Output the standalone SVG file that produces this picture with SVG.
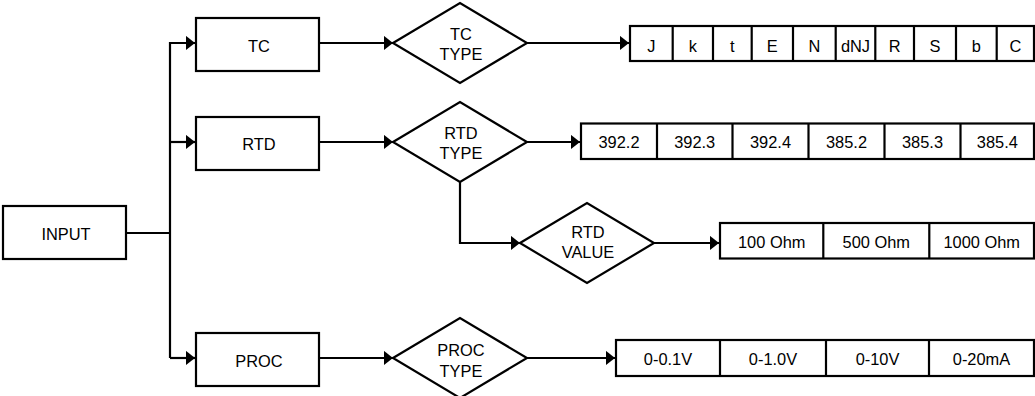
<svg xmlns="http://www.w3.org/2000/svg" width="1035" height="396" viewBox="0 0 1035 396">
<style>
.b{fill:#fff;stroke:#000;stroke-width:2.2}
.c{fill:none;stroke:#000;stroke-width:2.2}
text{font-family:"Liberation Sans",Arial,sans-serif;font-size:16.4px;fill:#000;text-anchor:middle}
</style>
<defs>
<marker id="ah" markerUnits="userSpaceOnUse" markerWidth="10" markerHeight="16" refX="9.5" refY="7.5" orient="auto">
<path d="M0,0 L9.5,7.5 L0,15 z" fill="#000"/>
</marker>
</defs>
<rect width="1035" height="396" fill="#fff"/>
<g id="connectors" class="c">
<path d="M126,233 H170"/>
<path d="M170,358 V43 H195" marker-end="url(#ah)"/>
<path d="M170,142 H195" marker-end="url(#ah)"/>
<path d="M170,358 H195" marker-end="url(#ah)"/>
<path d="M319,43 H393" marker-end="url(#ah)"/>
<path d="M319,142 H393" marker-end="url(#ah)"/>
<path d="M319,358 H393" marker-end="url(#ah)"/>
<path d="M527,43 H629" marker-end="url(#ah)"/>
<path d="M527,142 H580" marker-end="url(#ah)"/>
<path d="M460,182 V243 H520" marker-end="url(#ah)"/>
<path d="M654,243 H719" marker-end="url(#ah)"/>
<path d="M527,358 H615" marker-end="url(#ah)"/>
</g>
<g id="input"><rect class="b" x="3" y="206" width="123" height="53"/><text x="66" y="239.5">INPUT</text></g>
<g id="tc"><rect class="b" x="196" y="18" width="123" height="53"/><text x="259" y="52">TC</text></g>
<g id="rtd"><rect class="b" x="196" y="117" width="123" height="53"/><text x="259" y="150">RTD</text></g>
<g id="proc"><rect class="b" x="196" y="333" width="123" height="53"/><text x="259" y="366.5">PROC</text></g>
<g id="tc-type"><polygon class="b" points="393,43 460,3 527,43 460,83"/><text x="461" y="40">TC</text><text x="461" y="60">TYPE</text></g>
<g id="rtd-type"><polygon class="b" points="393,142 460,102 527,142 460,182"/><text x="461" y="138.5">RTD</text><text x="461" y="159">TYPE</text></g>
<g id="rtd-value"><polygon class="b" points="520,243 587,203 654,243 587,283"/><text x="588" y="238.3">RTD</text><text x="588" y="258.3">VALUE</text></g>
<g id="proc-type"><polygon class="b" points="393,358 460,318 527,358 460,398"/><text x="461" y="356">PROC</text><text x="461" y="376.5">TYPE</text></g>
<g id="tc-options">
<rect class="b" x="630" y="26" width="404" height="35"/>
<path class="c" d="M672.7,26V61 M713,26V61 M751.7,26V61 M793,26V61 M835.7,26V61 M875.3,26V61 M914,26V61 M956,26V61 M996.7,26V61"/>
<text x="651.3" y="51.5">J</text><text x="692.8" y="51.5">k</text><text x="732.3" y="51.5">t</text><text x="772.3" y="51.5">E</text><text x="814.3" y="51.5">N</text><text x="855.5" y="51.5">dNJ</text><text x="894.7" y="51.5">R</text><text x="935" y="51.5">S</text><text x="976.3" y="51.5">b</text><text x="1015.3" y="51.5">C</text>
</g>
<g id="rtd-options">
<rect class="b" x="581" y="123.5" width="453" height="35.5"/>
<path class="c" d="M657,123.5V159 M732.5,123.5V159 M808.5,123.5V159 M884.5,123.5V159 M960.5,123.5V159"/>
<text x="619" y="148.3">392.2</text><text x="694.7" y="148.3">392.3</text><text x="770.5" y="148.3">392.4</text><text x="846.5" y="148.3">385.2</text><text x="922.5" y="148.3">385.3</text><text x="997.3" y="148.3">385.4</text>
</g>
<g id="rtd-value-options">
<rect class="b" x="720" y="223" width="314" height="35.5"/>
<path class="c" d="M823.3,223V258.5 M929.3,223V258.5"/>
<text x="771.7" y="248.3">100 Ohm</text><text x="876.3" y="248.3">500 Ohm</text><text x="981.7" y="248.3">1000 Ohm</text>
</g>
<g id="proc-options">
<rect class="b" x="616" y="340" width="418" height="36"/>
<path class="c" d="M720,340V376 M826,340V376 M929,340V376"/>
<text x="668" y="365">0-0.1V</text><text x="773" y="365">0-1.0V</text><text x="877.5" y="365">0-10V</text><text x="981.5" y="365">0-20mA</text>
</g>
</svg>
